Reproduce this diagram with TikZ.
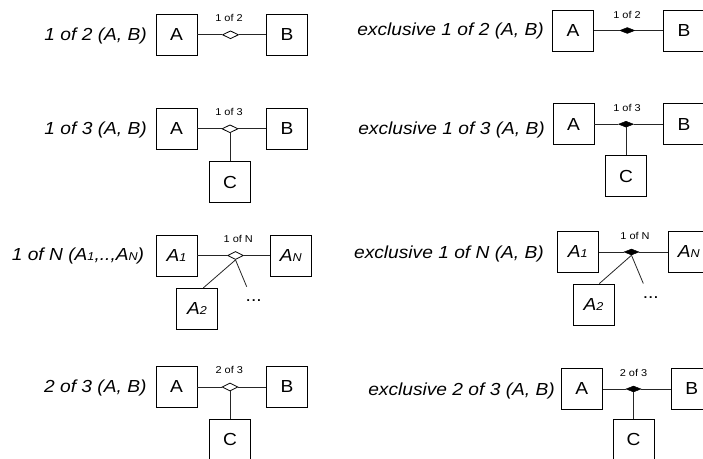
\documentclass[tikz,border=0pt]{standalone}
\usepackage{fontspec}
\setmainfont{Liberation Sans}[FakeStretch=1.1]
\usetikzlibrary{shapes.geometric}
\tikzset{
 ent/.style={draw, line width=0.8bp, fill=white, minimum width=41bp, minimum height=41bp, inner sep=0pt, font=\fontsize{17.5}{20}\selectfont},
 enti/.style={ent, font=\fontsize{17.5}{20}\selectfont\itshape},
 lbl/.style={inner sep=0pt, font=\fontsize{17.5}{20}\selectfont\itshape, anchor=base east},
 small/.style={inner sep=0pt, font=\fontsize{10}{12}\selectfont},
 dotsl/.style={inner sep=0pt, anchor=base, font=\fontsize{17.5}{20}\selectfont},
 odia/.style={diamond, draw, fill=white, line width=0.8bp, inner sep=0pt, minimum width=16bp, minimum height=8bp},
 fdia/.style={diamond, draw, fill=black, line width=0.5bp, inner sep=0pt, minimum width=15bp, minimum height=6bp},
 conn/.style={line width=0.8bp, draw=black!85},
}
\newcommand{\subx}[1]{{\fontsize{11.5}{12}\selectfont #1}}
\begin{document}
\begin{tikzpicture}[x=1bp,y=-1bp]
\useasboundingbox (0,0) rectangle (703,459);
\clip (0,0) rectangle (703,459);
\fill[white] (0,0) rectangle (703,459);

% ---------- left column ----------
% row 1
\node[ent] (la1) at (176.5,34.8) {A};
\node[ent] (lb1) at (287,34.8) {B};
\node[odia] (ld1) at (230.5,34.8) {};
\node[small] (lt1) at (229,18.3) {1 of 2};
\node[lbl] (ll1) at (147,41) {1 of 2 (A, B)};
\draw[conn] (la1) -- (ld1);
\draw[conn] (ld1) -- (lb1);

% row 2
\node[ent] (la2) at (176.5,128.8) {A};
\node[ent] (lb2) at (287,128.8) {B};
\node[odia] (ld2) at (230,128.8) {};
\node[ent] (lc2) at (230,182.2) {C};
\node[small] (lt2) at (229,111.7) {1 of 3};
\node[lbl] (ll2) at (147,135) {1 of 3 (A, B)};
\draw[conn] (la2) -- (ld2);
\draw[conn] (ld2) -- (lb2);
\draw[conn] (ld2.south) -- (lc2.north);

% row 3
\node[enti] (la3) at (176.5,255.5) {A\subx{1}};
\node[enti] (ln3) at (290.8,255.5) {A\subx{N}};
\node[odia] (ld3) at (235.5,255.5) {};
\node[enti] (lx3) at (197,308.8) {A\subx{2}};
\node[small] (lt3) at (238.3,239.3) {1 of N};
\node[dotsl] (lp3) at (253.7,302) {...};
\coordinate (le3) at (246.7,286.7);
\node[lbl] (ll3) at (144.3,261) {1 of N (A\subx{1},..,A\subx{N})};
\draw[conn] (la3) -- (ld3);
\draw[conn] (ld3) -- (ln3);
\draw[conn] (ld3.south) -- ([xshift=6.3bp]lx3.north);
\draw[conn] (ld3.south) -- (le3);

% row 4
\node[ent] (la4) at (176.5,387) {A};
\node[ent] (lb4) at (287,387) {B};
\node[odia] (ld4) at (230,387) {};
\node[ent] (lc4) at (230,439.8) {C};
\node[small] (lt4) at (229.3,370) {2 of 3};
\node[lbl] (ll4) at (146.7,392.7) {2 of 3 (A, B)};
\draw[conn] (la4) -- (ld4);
\draw[conn] (ld4) -- (lb4);
\draw[conn] (ld4.south) -- (lc4.north);

% ---------- right column ----------
% row 1
\node[ent] (ra1) at (573,30.5) {A};
\node[ent] (rb1) at (684,30.5) {B};
\node[fdia] (rd1) at (627.3,30.5) {};
\node[small] (rt1) at (627,15.3) {1 of 2};
\node[lbl] (rl1) at (544,36) {exclusive 1 of 2 (A, B)};
\draw[conn] (ra1) -- (rd1);
\draw[conn] (rd1) -- (rb1);

% row 2
\node[ent] (ra2) at (573.5,124.2) {A};
\node[ent] (rb2) at (684,124.2) {B};
\node[fdia] (rd2) at (626,124.2) {};
\node[ent] (rc2) at (626,176.2) {C};
\node[small] (rt2) at (627,107.5) {1 of 3};
\node[lbl] (rl2) at (545,135) {exclusive 1 of 3 (A, B)};
\draw[conn] (ra2) -- (rd2);
\draw[conn] (rd2) -- (rb2);
\draw[conn] (rd2.south) -- (rc2.north);

% row 3
\node[enti] (ra3) at (577.8,252) {A\subx{1}};
\node[enti] (rn3) at (688.8,252) {A\subx{N}};
\node[fdia] (rd3) at (631.5,252) {};
\node[enti] (rx3) at (593.5,304.5) {A\subx{2}};
\node[small] (rt3) at (635,235.7) {1 of N};
\node[dotsl] (rp3) at (650.8,298.5) {...};
\coordinate (re3) at (643.3,283.5);
\node[lbl] (rl3) at (544,258.3) {exclusive 1 of N (A, B)};
\draw[conn] (ra3) -- (rd3);
\draw[conn] (rd3) -- (rn3);
\draw[conn] (rd3.south) -- ([xshift=5.8bp]rx3.north);
\draw[conn] (rd3.south) -- (re3);

% row 4
\node[ent] (ra4) at (581.8,389) {A};
\node[ent] (rb4) at (691.7,389) {B};
\node[fdia] (rd4) at (633.5,389) {};
\node[ent] (rc4) at (633.5,439.8) {C};
\node[small] (rt4) at (633.5,373) {2 of 3};
\node[lbl] (rl4) at (555,395) {exclusive 2 of 3 (A, B)};
\draw[conn] (ra4) -- (rd4);
\draw[conn] (rd4) -- (rb4);
\draw[conn] (rd4.south) -- (rc4.north);
\end{tikzpicture}
\end{document}
